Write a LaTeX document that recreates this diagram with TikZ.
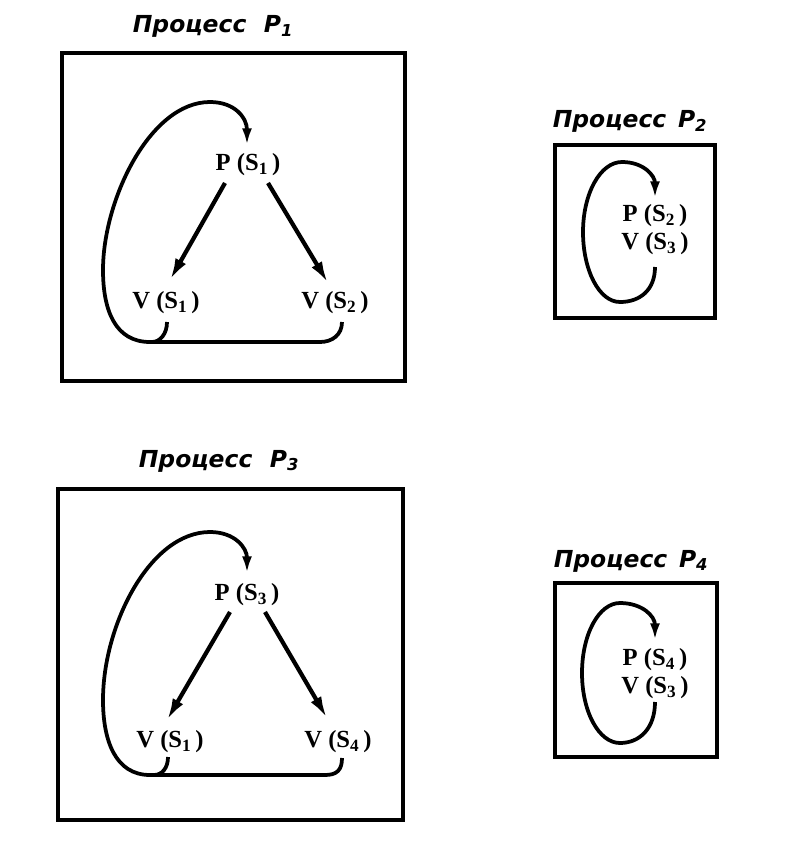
\documentclass[tikz,border=0pt]{standalone}
\usepackage{fontspec}
\setmainfont{Liberation Serif}
\newfontfamily\titlefont{DejaVu Sans}
\usetikzlibrary{arrows.meta}

\begin{document}
\begin{tikzpicture}[
  x=0.03cm, y=-0.03cm,
  procbox/.style={draw, line width=2.6pt},
  title/.style={font=\titlefont\bfseries\itshape\fontsize{20}{22}\selectfont, anchor=base},
  lbl/.style={font=\bfseries\fontsize{21}{24}\selectfont, align=center, inner sep=0pt},
  arrow/.style={-{Latex[length=6.5mm,width=3.6mm]}, line width=3.6pt},
  loopline/.style={-{Latex[length=5mm,width=3mm]}, line width=3.2pt},
  joinline/.style={line width=3.2pt}
]
  \useasboundingbox (0,0) rectangle (793,844);

  % Process P1
  \node[title] (t1) at (213,33) {Процесс\hspace{0.75em}P\textsubscript{1}};
  \draw[procbox] (62,53) rectangle (405,381);
  \node[lbl] (ps1) at (248,165) {P (S\textsubscript{1}\,)};
  \node[lbl] (vs1) at (166,303) {V (S\textsubscript{1}\,)};
  \node[lbl] (vs2) at (335,303) {V (S\textsubscript{2}\,)};
  \draw[arrow] ([shift={(-23,18)}]ps1.center) -- ([shift={(4,-23)}]vs1.center);
  \draw[arrow] ([shift={(20,18)}]ps1.center) -- ([shift={(-7,-20)}]vs2.center);
  \draw[loopline] ([shift={(7,19)}]vs2.center) .. controls +(0,13) and +(12,0) .. (320,342)
    -- (150,342)
    .. controls (115,342) and (103,310) .. (103,270)
    .. controls (103,200) and (150,102) .. (210,102)
    .. controls (235,102) and (247,118) .. ([shift={(-1,-20)}]ps1.center);
  \draw[joinline] ([shift={(1,19)}]vs1.center) .. controls +(0,12) and +(8,0) .. (152,342);

  % Process P2
  \node[title] (t2) at (630,128) {Процесс\hspace{0.5em}P\textsubscript{2}};
  \draw[procbox] (555,145) rectangle (715,318);
  \node[lbl] (ps2) at (655,230) {P (S\textsubscript{2}\,)\\V (S\textsubscript{3}\,)};
  \draw[loopline] ([shift={(0,37)}]ps2.center) .. controls +(0,23) and +(20,0) .. (620,302)
    .. controls (599,302) and (583,270) .. (583,232)
    .. controls (583,194) and (600,162) .. (622,162)
    .. controls (644,162) and (655,176) .. ([shift={(0,-32)}]ps2.center);

  % Process P3
  \node[title] (t3) at (219,467) {Процесс\hspace{0.75em}P\textsubscript{3}};
  \draw[procbox] (58,489) rectangle (403,820);
  \node[lbl] (ps3) at (247,595) {P (S\textsubscript{3}\,)};
  \node[lbl] (vs3) at (170,742) {V (S\textsubscript{1}\,)};
  \node[lbl] (vs4) at (338,742) {V (S\textsubscript{4}\,)};
  \draw[arrow] ([shift={(-17,17)}]ps3.center) -- ([shift={(-3,-22)}]vs3.center);
  \draw[arrow] ([shift={(18,17)}]ps3.center) -- ([shift={(-11,-24)}]vs4.center);
  \draw[loopline] ([shift={(4,16)}]vs4.center) .. controls +(0,12) and +(12,0) .. (325,775)
    -- (150,775)
    .. controls (115,775) and (103,740) .. (103,700)
    .. controls (103,625) and (150,532) .. (210,532)
    .. controls (235,532) and (247,548) .. ([shift={(0,-22)}]ps3.center);
  \draw[joinline] ([shift={(-2,15)}]vs3.center) .. controls +(0,11) and +(8,0) .. (154,775);

  % Process P4
  \node[title] (t4) at (631,567) {Процесс\hspace{0.5em}P\textsubscript{4}};
  \draw[procbox] (555,583) rectangle (717,757);
  \node[lbl] (ps4) at (655,674) {P (S\textsubscript{4}\,)\\V (S\textsubscript{3}\,)};
  \draw[loopline] ([shift={(0,28)}]ps4.center) .. controls +(0,26) and +(20,0) .. (620,743)
    .. controls (599,743) and (582,712) .. (582,673)
    .. controls (582,634) and (599,603) .. (620,603)
    .. controls (642,603) and (655,616) .. ([shift={(0,-34)}]ps4.center);
\end{tikzpicture}
\end{document}
